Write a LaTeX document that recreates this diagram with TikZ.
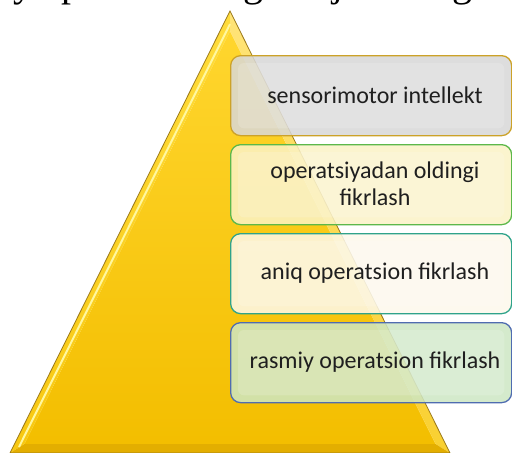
\documentclass[tikz,border=0pt]{standalone}
\usepackage{fontspec}
\setmainfont{Carlito}
\newfontfamily\seriffont{Liberation Serif}
\usetikzlibrary{calc}
\definecolor{txt}{HTML}{1F1F1F}
\definecolor{goldline}{HTML}{9C7A1A}
\definecolor{faceTop}{RGB}{255,214,46}
\definecolor{faceBot}{RGB}{243,190,0}
\definecolor{leftTop}{RGB}{255,220,60}
\definecolor{leftBot}{RGB}{248,200,16}
\definecolor{rightTop}{RGB}{255,228,120}
\definecolor{rightBot}{RGB}{249,208,48}
\definecolor{bottomFacet}{RGB}{227,174,0}
\definecolor{hilite}{RGB}{255,247,160}
\definecolor{bOne}{RGB}{204,162,40}
\definecolor{fOne}{RGB}{216,216,216}
\definecolor{bTwo}{RGB}{92,184,74}
\definecolor{fTwo}{RGB}{251,243,198}
\definecolor{bThree}{RGB}{47,163,138}
\definecolor{fThree}{RGB}{253,249,236}
\definecolor{bFour}{RGB}{79,108,176}
\definecolor{fFour}{RGB}{205,231,196}
\tikzset{
  box/.style={rounded corners=10pt, line width=1.3pt, fill opacity=0.85, minimum width=281pt, minimum height=80pt, anchor=north west, inner sep=0pt},
  label/.style={font=\fontsize{24}{27}\selectfont, text=txt, align=center, inner sep=0pt},
  frag/.style={font=\seriffont\fontsize{40}{40}\selectfont, anchor=base west, inner sep=0pt, text=black},
  bevel/.style={fill=white, opacity=0.16, rounded corners=6pt}
}
\begin{document}
\begin{tikzpicture}[x=1pt,y=-1pt]
\useasboundingbox (0,0) rectangle (512,453);
\clip (0,0) rectangle (512,453);
\fill[white] (0,0) rectangle (512,453);
% clipped line of text above
\node[frag] (f1) at (13,-4) {y};
\node[frag] (f2) at (61,-4) {p};
\node[frag] (f3) at (243,-4) {g};
\node[frag] (f4) at (332,-4) {j};
\node[frag] (f5) at (452,-4) {g};
% pyramid
\coordinate (A) at (230,11);
\coordinate (L) at (10,453);
\coordinate (R) at (450,453);
\coordinate (A2) at (230,31);
\coordinate (L2) at (24.5,444);
\coordinate (R2) at (435.5,444);
\shade[top color=faceTop, bottom color=faceBot] (A2) -- (L2) -- (R2) -- cycle;
\shade[top color=leftTop, bottom color=leftBot] (A) -- (L) -- (L2) -- (A2) -- cycle;
\shade[top color=rightTop, bottom color=rightBot] (A) -- (A2) -- (R2) -- (R) -- cycle;
\fill[bottomFacet] (L) -- (R) -- (R2) -- (L2) -- cycle;
\draw[hilite, line width=2pt] (230,24) -- (19,447);
\draw[goldline, line width=0.8pt, line join=miter] (A) -- (L) -- (R) -- cycle;
% boxes
\node[box, draw=bOne, fill=fOne] (b1) at (230,55) {};
\node[box, draw=bTwo, fill=fTwo] (b2) at (230,144) {};
\node[box, draw=bThree, fill=fThree] (b3) at (230,233) {};
\node[box, draw=bFour, fill=fFour] (b4) at (230,322) {};
\foreach \b in {b1,b2,b3,b4}{
  \fill[bevel] ($(\b.north west)+(8,8)$) rectangle ($(\b.south east)+(-8,-8)$);
}
% labels
\node[label] (t1) at (375,95) {sensorimotor intellekt};
\node[label] (t2) at (375,184) {operatsiyadan oldingi\\fikrlash};
\node[label] (t3) at (375,273) {aniq operatsion fikrlash};
\node[label] (t4) at (375,362) {rasmiy operatsion fikrlash};
\end{tikzpicture}
\end{document}
